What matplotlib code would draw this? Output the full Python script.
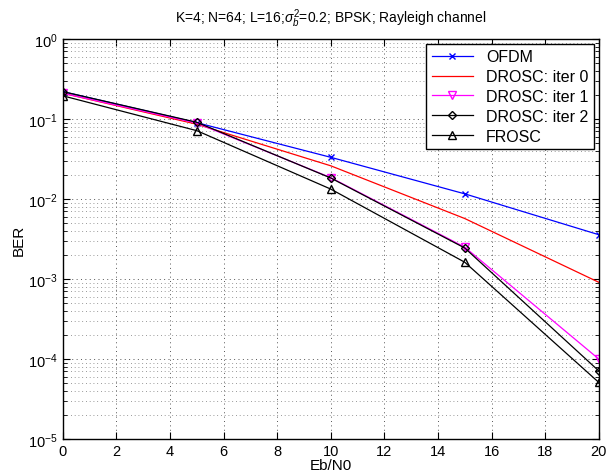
import matplotlib
matplotlib.use("Agg")
import matplotlib.pyplot as plt
from matplotlib.ticker import LogLocator, NullFormatter, MultipleLocator

plt.rcParams['font.family'] = ['Liberation Sans', 'DejaVu Sans']
plt.rcParams['mathtext.fontset'] = 'custom'
plt.rcParams['mathtext.rm'] = 'Liberation Sans'
plt.rcParams['mathtext.it'] = 'Liberation Sans:italic'

snr = [0, 5, 10, 15, 20]
ofdm = [0.22, 0.090, 0.0332, 0.0116, 0.00358]
drosc0 = [0.21, 0.086, 0.026, 0.0057, 0.00091]
drosc1 = [0.21, 0.089, 0.0185, 0.0025, 0.000100]
drosc2 = [0.22, 0.091, 0.0183, 0.00244, 0.000071]
frosc = [0.195, 0.0715, 0.0133, 0.00162, 0.000051]
labels = ['OFDM', 'DROSC: iter 0', 'DROSC: iter 1', 'DROSC: iter 2', 'FROSC']

fig = plt.figure(figsize=(6.16, 4.77), dpi=100)
ax = fig.add_axes([0.102, 0.0776, 0.870, 0.8385])

lw = 0.9
ax.semilogy(snr, ofdm, color='#0000ff', marker='x', ms=4.5, mew=1.0, lw=lw, label=labels[0])
ax.semilogy(snr, drosc0, color='#ff0000', lw=lw, label=labels[1])
ax.semilogy(snr, drosc1, color='#ff00ff', marker='v', ms=6, mfc='none', mew=1.0, lw=lw, label=labels[2])
ax.semilogy(snr, drosc2, color='black', marker='D', ms=4.2, mfc='none', mew=1.0, lw=lw, label=labels[3])
ax.semilogy(snr, frosc, color='black', marker='^', ms=6, mfc='none', mew=1.0, lw=lw, label=labels[4])

ax.set_xlim(0, 20)
ax.set_ylim(1e-5, 1)
ax.xaxis.set_major_locator(MultipleLocator(2))
ax.yaxis.set_major_locator(LogLocator(base=10, numticks=10))
ax.yaxis.set_minor_locator(LogLocator(base=10, subs=range(2, 10), numticks=20))
ax.yaxis.set_minor_formatter(NullFormatter())
ax.tick_params(which='both', direction='in', top=True, right=True, labelsize=10.5)
ax.tick_params(which='major', length=5)
ax.tick_params(which='minor', length=3)
ax.grid(True, which='major', ls=(0, (1, 3.5)), color='#555555', lw=0.7)
ax.grid(True, which='minor', axis='y', ls=(0, (1, 3.5)), color='#777777', lw=0.6)
for s in ax.spines.values():
    s.set_linewidth(1.0)

ax.set_xlabel('Eb/N0', fontsize=11, labelpad=0)
ax.set_ylabel('BER', fontsize=11, labelpad=2)
ax.set_title(r'K=4; N=64; L=16;$\sigma_b^2$=0.2; BPSK; Rayleigh channel', fontsize=10, pad=12)

leg = ax.legend(loc='upper right', fontsize=11.5, fancybox=False, framealpha=1,
                edgecolor='black', borderpad=0.35, labelspacing=0.3, handlelength=2.6,
                borderaxespad=0.3)
leg.get_frame().set_linewidth(1.0)

fig.savefig('out.png', dpi=100)
